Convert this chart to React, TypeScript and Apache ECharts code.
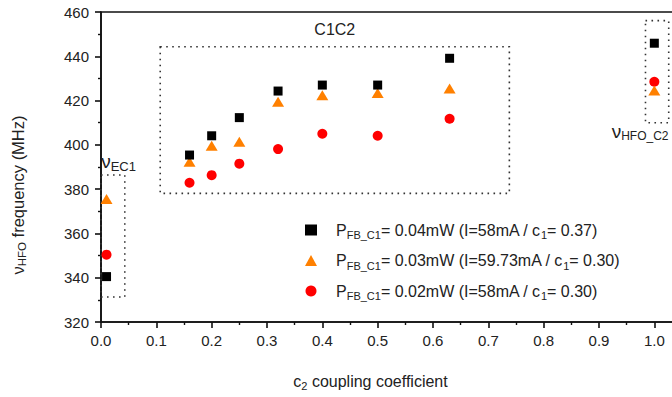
import React, { useEffect, useRef } from "react";
import * as echarts from "echarts";

const ec1X = [0.01];
const c1c2X = [0.16, 0.2, 0.25, 0.32, 0.4, 0.5, 0.63];
const hfoX = [1.0];

const squareVals = [340.5, 395.4, 404.1, 412.3, 424.3, 427.0, 427.0, 439.1, 445.9];
const triangleVals = [375.6, 392.4, 399.6, 401.4, 419.5, 422.4, 423.4, 425.5, 424.5];
const circleVals = [350.4, 382.9, 386.3, 391.5, 398.1, 405.0, 404.1, 411.8, 428.5];

const seriesNames = [
  "P_FB_C1= 0.04mW (I=58mA / c_1= 0.37)",
  "P_FB_C1= 0.03mW (I=59.73mA / c_1= 0.30)",
  "P_FB_C1= 0.02mW (I=58mA / c_1= 0.30)",
];
const legendRich = [
  "P{sub|FB_C1}= 0.04mW (I=58mA / c{sub|1}= 0.37)",
  "P{sub|FB_C1}= 0.03mW (I=59.73mA / c{sub|1}= 0.30)",
  "P{sub|FB_C1}= 0.02mW (I=58mA / c{sub|1}= 0.30)",
];

// dotted annotation boxes [x0, y0, x1, y1] in data space
const boxEC1 = [0, 386.4, 0.043, 331.3];
const boxC1C2 = [0.107, 444.3, 0.738, 378.1];
const boxHFO = [0.984, 456.1, 1.026, 410.0];

const allX = [...ec1X, ...c1c2X, ...hfoX];

const FONT = "Liberation Sans, Arial, sans-serif";
const TXT = "#222";

export default function App() {
  const ref = useRef<HTMLDivElement>(null);
  useEffect(() => {
    const chart = echarts.init(ref.current!, null, { renderer: "svg" });
    const mk = (vals: number[]) => allX.map((x, i) => [x, vals[i]]);
    const subRich = {
      sub: { fontSize: 11, fontFamily: FONT, color: TXT, padding: [10, 0, 0, 0] },
    };
    const bigSub = {
      sub: { fontSize: 13, fontFamily: FONT, color: TXT, padding: [10, 0, 0, 0] },
    };
    const hfoSub = {
      sub: { fontSize: 12, fontFamily: FONT, color: TXT, padding: [10, 0, 0, 0] },
    };
    const boxStyle = {
      color: "rgba(0,0,0,0)",
      borderColor: "#333",
      borderWidth: 1.6,
      borderType: [1.6, 4.4],
    };
    const area = (b: number[], label: any) => [
      { coord: [b[0], b[1]], label },
      { coord: [b[2], b[3]] },
    ];
    chart.setOption({
      animation: false,
      textStyle: { fontFamily: FONT },
      grid: {
        left: 101,
        top: 12,
        height: 310,
        width: 581,
        outerBoundsMode: "none",
        containLabel: false,
        show: true,
        borderColor: "#111",
        borderWidth: 1.6,
      },
      xAxis: {
        type: "value",
        min: 0,
        max: 1.05,
        interval: 0.1,
        splitLine: { show: false },
        axisLine: { lineStyle: { color: "#111", width: 1.6 } },
        axisTick: { inside: false, length: 6, lineStyle: { color: "#111", width: 1.6 } },
        minorTick: { show: true, splitNumber: 2, length: 3, lineStyle: { color: "#111", width: 1.4 } },
        axisLabel: {
          color: TXT,
          fontSize: 15,
          fontFamily: FONT,
          margin: 11,
          formatter: (v: number) => (v > 1.001 ? "" : v.toFixed(1)),
        },
        name: "c{sub|2} coupling coefficient",
        nameLocation: "middle",
        nameGap: 49,
        nameTextStyle: {
          color: TXT,
          fontSize: 16,
          fontFamily: FONT,
          padding: [0, 42, 0, 0],
          rich: { sub: { fontSize: 11, fontFamily: FONT, color: TXT, padding: [9, 0, 0, 0] } },
        },
      },
      yAxis: {
        type: "value",
        min: 320,
        max: 460,
        interval: 20,
        splitLine: { show: false },
        axisLine: { lineStyle: { color: "#111", width: 1.6 } },
        axisTick: { inside: false, length: 6, lineStyle: { color: "#111", width: 1.6 } },
        minorTick: { show: true, splitNumber: 2, length: 3, lineStyle: { color: "#111", width: 1.4 } },
        axisLabel: { color: TXT, fontSize: 15, fontFamily: FONT, margin: 12 },
        name: "ν{sub|HFO} frequency (MHz)",
        nameLocation: "middle",
        nameRotate: 90,
        nameGap: 73,
        nameTextStyle: {
          color: TXT,
          fontSize: 16.5,
          fontFamily: FONT,
          padding: [0, 56, 0, 0],
          rich: { sub: { fontSize: 11.5, fontFamily: FONT, color: TXT, padding: [9, 0, 0, 0] } },
        },
      },
      legend: {
        orient: "vertical",
        left: 300,
        top: 217,
        itemGap: 12,
        itemWidth: 12,
        itemHeight: 11,
        data: seriesNames,
        formatter: (n: string) => legendRich[seriesNames.indexOf(n)],
        textStyle: { color: TXT, fontSize: 16, fontFamily: FONT, padding: [0, 0, 0, 14], rich: subRich },
      },
      series: [
        {
          name: seriesNames[0],
          type: "scatter",
          symbol: "rect",
          symbolSize: 9,
          itemStyle: { color: "#000", opacity: 1 },
          data: mk(squareVals),
          z: 3,
          markArea: {
            silent: true,
            itemStyle: boxStyle,
            data: [
              area(boxEC1, {
                show: true,
                position: [1, -1],
                align: "left",
                verticalAlign: "bottom",
                formatter: "ν{sub|EC1}",
                color: TXT,
                fontSize: 19,
                fontFamily: FONT,
                rich: bigSub,
              }),
              area(boxC1C2, {
                show: true,
                position: "top",
                distance: 8,
                formatter: "C1C2",
                color: TXT,
                fontSize: 16,
                fontFamily: FONT,
              }),
              area(boxHFO, {
                show: true,
                position: [-33, "97%"],
                align: "left",
                verticalAlign: "top",
                formatter: "ν{sub|HFO_C2}",
                color: TXT,
                fontSize: 19,
                fontFamily: FONT,
                rich: hfoSub,
              }),
            ],
          },
        },
        {
          name: seriesNames[1],
          type: "scatter",
          symbol: "triangle",
          symbolSize: [12, 10],
          itemStyle: { color: "#ff8000", opacity: 1 },
          data: mk(triangleVals),
          z: 2,
        },
        {
          name: seriesNames[2],
          type: "scatter",
          symbol: "circle",
          symbolSize: 10,
          itemStyle: { color: "#ff0000", opacity: 1 },
          data: mk(circleVals),
          z: 1,
        },
      ],
    });
    return () => chart.dispose();
  }, []);
  return <div ref={ref} style={{ width: 672, height: 397, position: "absolute", left: 0, top: 0, overflow: "hidden" }} />;
}
